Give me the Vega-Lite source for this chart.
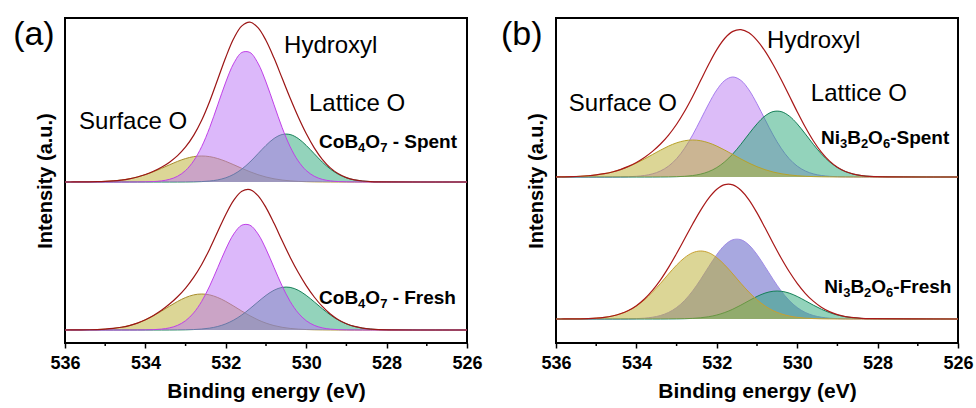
{
"$schema": "https://vega.github.io/schema/vega-lite/v6.json",
"padding": {"left": 12, "top": 16, "right": 5, "bottom": 5},
"spacing": 89,
"bounds": "flush",
"config": {
 "font": "Liberation Sans",
 "view": {"stroke": "black", "strokeWidth": 2},
 "axisX": {"labelFontSize": 18, "labelFontWeight": "bold", "labelColor": "black", "tickColor": "black", "tickWidth": 1.5, "tickSize": 5, "labelPadding": 6, "domain": false, "grid": false, "titleFontSize": 21, "titleFontWeight": "bold", "titleColor": "black", "titlePadding": 8, "labelFlush": false},
 "axisY": {"labels": false, "ticks": false, "domain": false, "grid": false, "titleFontSize": 20, "titleFontWeight": "bold", "titleColor": "black", "titlePadding": 10}
},
"datasets": {
 "minor": [{"x": 535}, {"x": 533}, {"x": 531}, {"x": 529}, {"x": 527}],
 "labels": [
  {"g": "aS", "k": "panel", "t": "(a)", "x": 537.29, "y": 137},
  {"g": "aS", "k": "ann", "t": "Surface O", "x": 535.65, "y": 53},
  {"g": "aS", "k": "ann", "t": "Hydroxyl", "x": 530.55, "y": 129},
  {"g": "aS", "k": "ann", "t": "Lattice O", "x": 529.93, "y": 71},
  {"g": "aS", "k": "spec", "t": "CoB", "x": 529.68, "y": 34},
  {"g": "aS", "k": "sub", "t": "4", "x": 528.71, "y": 34},
  {"g": "aS", "k": "spec", "t": "O", "x": 528.53, "y": 34},
  {"g": "aS", "k": "sub", "t": "7", "x": 528.16, "y": 34},
  {"g": "aS", "k": "spec", "t": "- Spent", "x": 527.85, "y": 34},
  {"g": "aF", "k": "spec", "t": "CoB", "x": 529.68, "y": 26},
  {"g": "aF", "k": "sub", "t": "4", "x": 528.71, "y": 26},
  {"g": "aF", "k": "spec", "t": "O", "x": 528.53, "y": 26},
  {"g": "aF", "k": "sub", "t": "7", "x": 528.16, "y": 26},
  {"g": "aF", "k": "spec", "t": "- Fresh", "x": 527.85, "y": 26},
  {"g": "bS", "k": "panel", "t": "(b)", "x": 537.37, "y": 132},
  {"g": "bS", "k": "ann", "t": "Surface O", "x": 535.68, "y": 66},
  {"g": "bS", "k": "ann", "t": "Hydroxyl", "x": 530.75, "y": 129},
  {"g": "bS", "k": "ann", "t": "Lattice O", "x": 529.66, "y": 76},
  {"g": "bS", "k": "spec", "t": "Ni", "x": 529.41, "y": 33},
  {"g": "bS", "k": "sub", "t": "3", "x": 528.937, "y": 33},
  {"g": "bS", "k": "spec", "t": "B", "x": 528.757, "y": 33},
  {"g": "bS", "k": "sub", "t": "2", "x": 528.416, "y": 33},
  {"g": "bS", "k": "spec", "t": "O", "x": 528.236, "y": 33},
  {"g": "bS", "k": "sub", "t": "6", "x": 527.868, "y": 33},
  {"g": "bS", "k": "spec", "t": "-Spent", "x": 527.688, "y": 33},
  {"g": "bF", "k": "spec", "t": "Ni", "x": 529.33, "y": 26},
  {"g": "bF", "k": "sub", "t": "3", "x": 528.857, "y": 26},
  {"g": "bF", "k": "spec", "t": "B", "x": 528.677, "y": 26},
  {"g": "bF", "k": "sub", "t": "2", "x": 528.336, "y": 26},
  {"g": "bF", "k": "spec", "t": "O", "x": 528.156, "y": 26},
  {"g": "bF", "k": "sub", "t": "6", "x": 527.788, "y": 26},
  {"g": "bF", "k": "spec", "t": "-Fresh", "x": 527.608, "y": 26}
 ],
 "aS": [
  {"x":536,"s":0,"h":0,"l":0,"e":0},
  {"x":535.8,"s":0.03,"h":0,"l":0,"e":0.03},
  {"x":535.6,"s":0.08,"h":0,"l":0,"e":0.08},
  {"x":535.4,"s":0.16,"h":0,"l":0,"e":0.16},
  {"x":535.2,"s":0.33,"h":0,"l":0,"e":0.33},
  {"x":535.0,"s":0.63,"h":0,"l":0,"e":0.63},
  {"x":534.8,"s":1.14,"h":0,"l":0,"e":1.14},
  {"x":534.6,"s":1.97,"h":0,"l":0,"e":1.97},
  {"x":534.4,"s":3.20,"h":0.01,"l":0,"e":3.21},
  {"x":534.2,"s":4.97,"h":0.05,"l":0,"e":5.02},
  {"x":534.0,"s":7.33,"h":0.16,"l":0,"e":7.49},
  {"x":533.8,"s":10.27,"h":0.43,"l":0,"e":10.70},
  {"x":533.6,"s":13.62,"h":1.11,"l":0,"e":14.73},
  {"x":533.4,"s":17.21,"h":2.65,"l":0,"e":19.86},
  {"x":533.2,"s":20.62,"h":5.75,"l":0.01,"e":26.38},
  {"x":533.0,"s":23.45,"h":11.50,"l":0.06,"e":35.01},
  {"x":532.8,"s":25.35,"h":21.09,"l":0.16,"e":46.60},
  {"x":532.6,"s":26,"h":35.37,"l":0.41,"e":61.78},
  {"x":532.4,"s":25.35,"h":54.50,"l":0.97,"e":80.82},
  {"x":532.2,"s":23.45,"h":77.16,"l":2.11,"e":102.72},
  {"x":532.0,"s":20.62,"h":99.95,"l":4.21,"e":124.78},
  {"x":531.8,"s":17.21,"h":118.82,"l":7.73,"e":143.76},
  {"x":531.6,"s":13.62,"h":129.56,"l":12.96,"e":156.14},
  {"x":531.4,"s":10.27,"h":129.56,"l":19.97,"e":159.80},
  {"x":531.2,"s":7.33,"h":118.82,"l":28.27,"e":154.42},
  {"x":531.0,"s":4.97,"h":99.95,"l":36.62,"e":141.54},
  {"x":530.8,"s":3.20,"h":77.16,"l":43.54,"e":123.90},
  {"x":530.6,"s":1.97,"h":54.50,"l":47.47,"e":103.94},
  {"x":530.4,"s":1.14,"h":35.37,"l":47.47,"e":83.98},
  {"x":530.2,"s":0.63,"h":21.09,"l":43.54,"e":65.26},
  {"x":530.0,"s":0.33,"h":11.50,"l":36.62,"e":48.45},
  {"x":529.8,"s":0.16,"h":5.75,"l":28.27,"e":34.18},
  {"x":529.6,"s":0.08,"h":2.65,"l":19.97,"e":22.70},
  {"x":529.4,"s":0.03,"h":1.11,"l":12.96,"e":14.10},
  {"x":529.2,"s":0,"h":0.43,"l":7.73,"e":8.16},
  {"x":529.0,"s":0,"h":0.16,"l":4.21,"e":4.37},
  {"x":528.8,"s":0,"h":0.05,"l":2.11,"e":2.16},
  {"x":528.6,"s":0,"h":0.01,"l":0.97,"e":0.98},
  {"x":528.4,"s":0,"h":0,"l":0.41,"e":0.41},
  {"x":528.2,"s":0,"h":0,"l":0.16,"e":0.16},
  {"x":526,"s":0,"h":0,"l":0,"e":0}
 ],
 "aF": [
  {"x":536,"s":0,"h":0,"l":0,"e":0},
  {"x":535.8,"s":0.05,"h":0,"l":0,"e":0.05},
  {"x":535.6,"s":0.11,"h":0,"l":0,"e":0.11},
  {"x":535.4,"s":0.23,"h":0,"l":0,"e":0.23},
  {"x":535.2,"s":0.46,"h":0,"l":0,"e":0.46},
  {"x":535.0,"s":0.87,"h":0,"l":0,"e":0.87},
  {"x":534.8,"s":1.58,"h":0,"l":0,"e":1.58},
  {"x":534.6,"s":2.72,"h":0,"l":0,"e":2.72},
  {"x":534.4,"s":4.43,"h":0.01,"l":0,"e":4.44},
  {"x":534.2,"s":6.88,"h":0.04,"l":0,"e":6.92},
  {"x":534.0,"s":10.15,"h":0.13,"l":0,"e":10.28},
  {"x":533.8,"s":14.22,"h":0.35,"l":0,"e":14.57},
  {"x":533.6,"s":18.86,"h":0.90,"l":0,"e":19.76},
  {"x":533.4,"s":23.83,"h":2.14,"l":0.03,"e":26.00},
  {"x":533.2,"s":28.55,"h":4.65,"l":0.08,"e":33.28},
  {"x":533.0,"s":32.47,"h":9.31,"l":0.19,"e":41.97},
  {"x":532.8,"s":35.10,"h":17.07,"l":0.44,"e":52.61},
  {"x":532.6,"s":36,"h":28.62,"l":0.95,"e":65.57},
  {"x":532.4,"s":35.10,"h":44.10,"l":1.89,"e":81.09},
  {"x":532.2,"s":32.47,"h":62.43,"l":3.52,"e":98.42},
  {"x":532.0,"s":28.55,"h":80.88,"l":6.15,"e":115.58},
  {"x":531.8,"s":23.83,"h":96.14,"l":9.98,"e":129.95},
  {"x":531.6,"s":18.86,"h":104.83,"l":15.09,"e":138.78},
  {"x":531.4,"s":14.22,"h":104.83,"l":21.33,"e":140.38},
  {"x":531.2,"s":10.15,"h":96.14,"l":28.12,"e":134.41},
  {"x":531.0,"s":6.88,"h":80.88,"l":34.62,"e":122.38},
  {"x":530.8,"s":4.43,"h":62.43,"l":39.78,"e":106.64},
  {"x":530.6,"s":2.72,"h":44.10,"l":42.61,"e":89.43},
  {"x":530.4,"s":1.58,"h":28.62,"l":42.61,"e":72.81},
  {"x":530.2,"s":0.87,"h":17.07,"l":39.78,"e":57.72},
  {"x":530.0,"s":0.46,"h":9.31,"l":34.62,"e":44.39},
  {"x":529.8,"s":0.23,"h":4.65,"l":28.12,"e":33.00},
  {"x":529.6,"s":0.11,"h":2.14,"l":21.33,"e":23.58},
  {"x":529.4,"s":0.05,"h":0.90,"l":15.09,"e":16.04},
  {"x":529.2,"s":0,"h":0.35,"l":9.98,"e":10.33},
  {"x":529.0,"s":0,"h":0.13,"l":6.15,"e":6.28},
  {"x":528.8,"s":0,"h":0.04,"l":3.52,"e":3.56},
  {"x":528.6,"s":0,"h":0.01,"l":1.89,"e":1.90},
  {"x":528.4,"s":0,"h":0,"l":0.95,"e":0.95},
  {"x":528.2,"s":0,"h":0,"l":0.44,"e":0.44},
  {"x":526,"s":0,"h":0,"l":0,"e":0}
 ],
 "bS": [
  {"x":536,"s":0.1,"h":0,"l":0,"e":0.1},
  {"x":535.8,"s":0.22,"h":0,"l":0,"e":0.22},
  {"x":535.6,"s":0.41,"h":0,"l":0,"e":0.41},
  {"x":535.4,"s":0.73,"h":0,"l":0,"e":0.73},
  {"x":535.2,"s":1.26,"h":0,"l":0,"e":1.26},
  {"x":535.0,"s":2.08,"h":0,"l":0,"e":2.08},
  {"x":534.8,"s":3.29,"h":0,"l":0,"e":3.29},
  {"x":534.6,"s":5.00,"h":0.04,"l":0,"e":5.04},
  {"x":534.4,"s":7.33,"h":0.11,"l":0,"e":7.44},
  {"x":534.2,"s":10.29,"h":0.29,"l":0,"e":10.58},
  {"x":534.0,"s":13.88,"h":0.68,"l":0,"e":14.56},
  {"x":533.8,"s":18.02,"h":1.51,"l":0,"e":19.53},
  {"x":533.6,"s":22.46,"h":3.13,"l":0,"e":25.59},
  {"x":533.4,"s":26.86,"h":6.05,"l":0.05,"e":32.96},
  {"x":533.2,"s":30.90,"h":10.9,"l":0.12,"e":41.92},
  {"x":533.0,"s":34.15,"h":18.3,"l":0.30,"e":52.75},
  {"x":532.8,"s":36.26,"h":28.8,"l":0.68,"e":65.74},
  {"x":532.6,"s":37,"h":42.1,"l":1.45,"e":80.55},
  {"x":532.4,"s":36.26,"h":57.5,"l":2.90,"e":96.66},
  {"x":532.2,"s":34.15,"h":73.2,"l":5.41,"e":112.76},
  {"x":532.0,"s":30.90,"h":87.1,"l":9.44,"e":127.44},
  {"x":531.8,"s":26.86,"h":96.6,"l":15.31,"e":138.77},
  {"x":531.6,"s":22.46,"h":100,"l":23.17,"e":145.63},
  {"x":531.4,"s":18.02,"h":96.6,"l":32.74,"e":147.36},
  {"x":531.2,"s":13.88,"h":87.1,"l":43.16,"e":144.14},
  {"x":531.0,"s":10.29,"h":73.2,"l":53.13,"e":136.62},
  {"x":530.8,"s":7.33,"h":57.5,"l":61.05,"e":125.88},
  {"x":530.6,"s":5.00,"h":42.1,"l":65.41,"e":112.51},
  {"x":530.4,"s":3.29,"h":28.8,"l":65.41,"e":97.50},
  {"x":530.2,"s":2.08,"h":18.3,"l":61.05,"e":81.43},
  {"x":530.0,"s":1.26,"h":10.9,"l":53.13,"e":65.29},
  {"x":529.8,"s":0.73,"h":6.05,"l":43.16,"e":49.94},
  {"x":529.6,"s":0.41,"h":3.13,"l":32.74,"e":36.28},
  {"x":529.4,"s":0.22,"h":1.51,"l":23.17,"e":24.90},
  {"x":529.2,"s":0.11,"h":0.68,"l":15.31,"e":16.10},
  {"x":529.0,"s":0.06,"h":0.29,"l":9.44,"e":9.79},
  {"x":528.8,"s":0.03,"h":0.11,"l":5.41,"e":5.55},
  {"x":528.6,"s":0.01,"h":0.04,"l":2.90,"e":2.95},
  {"x":528.4,"s":0,"h":0,"l":1.45,"e":1.45},
  {"x":528.2,"s":0,"h":0,"l":0.68,"e":0.68},
  {"x":526,"s":0,"h":0,"l":0,"e":0}
 ],
 "bF": [
  {"x":536,"s":0,"h":0,"l":0,"e":0},
  {"x":535.8,"s":0.04,"h":0,"l":0,"e":0.04},
  {"x":535.6,"s":0.09,"h":0,"l":0,"e":0.09},
  {"x":535.4,"s":0.20,"h":0,"l":0,"e":0.20},
  {"x":535.2,"s":0.43,"h":0,"l":0,"e":0.43},
  {"x":535.0,"s":0.86,"h":0,"l":0,"e":0.86},
  {"x":534.8,"s":1.65,"h":0,"l":0,"e":1.65},
  {"x":534.6,"s":2.99,"h":0,"l":0,"e":2.99},
  {"x":534.4,"s":5.14,"h":0.06,"l":0,"e":5.20},
  {"x":534.2,"s":8.36,"h":0.14,"l":0,"e":8.50},
  {"x":534.0,"s":12.99,"h":0.36,"l":0,"e":13.35},
  {"x":533.8,"s":19.18,"h":0.82,"l":0,"e":20.00},
  {"x":533.6,"s":26.86,"h":1.76,"l":0,"e":28.62},
  {"x":533.4,"s":35.63,"h":3.51,"l":0,"e":39.14},
  {"x":533.2,"s":45.02,"h":6.55,"l":0.05,"e":51.62},
  {"x":533.0,"s":53.92,"h":11.44,"l":0.13,"e":65.49},
  {"x":532.8,"s":61.34,"h":18.56,"l":0.29,"e":80.19},
  {"x":532.6,"s":66.30,"h":28.08,"l":0.62,"e":95.00},
  {"x":532.4,"s":68,"h":39.68,"l":1.23,"e":108.91},
  {"x":532.2,"s":66.30,"h":52.32,"l":2.29,"e":120.91},
  {"x":532.0,"s":61.34,"h":64.40,"l":4.00,"e":129.74},
  {"x":531.8,"s":53.92,"h":74.00,"l":6.50,"e":134.42},
  {"x":531.6,"s":45.02,"h":79.28,"l":9.83,"e":134.13},
  {"x":531.4,"s":35.63,"h":79.28,"l":13.89,"e":128.80},
  {"x":531.2,"s":26.86,"h":74.00,"l":18.31,"e":119.17},
  {"x":531.0,"s":19.18,"h":64.40,"l":22.54,"e":106.12},
  {"x":530.8,"s":12.99,"h":52.32,"l":25.90,"e":91.21},
  {"x":530.6,"s":8.36,"h":39.68,"l":27.75,"e":75.79},
  {"x":530.4,"s":5.14,"h":28.08,"l":27.75,"e":60.97},
  {"x":530.2,"s":2.99,"h":18.56,"l":25.90,"e":47.45},
  {"x":530.0,"s":1.65,"h":11.44,"l":22.54,"e":35.63},
  {"x":529.8,"s":0.86,"h":6.55,"l":18.31,"e":25.72},
  {"x":529.6,"s":0.43,"h":3.51,"l":13.89,"e":17.83},
  {"x":529.4,"s":0.20,"h":1.76,"l":9.83,"e":11.79},
  {"x":529.2,"s":0.09,"h":0.82,"l":6.50,"e":7.41},
  {"x":529.0,"s":0.04,"h":0.36,"l":4.00,"e":4.40},
  {"x":528.8,"s":0,"h":0.14,"l":2.29,"e":2.43},
  {"x":528.6,"s":0,"h":0.06,"l":1.23,"e":1.29},
  {"x":528.4,"s":0,"h":0,"l":0.62,"e":0.62},
  {"x":528.2,"s":0,"h":0,"l":0.29,"e":0.29},
  {"x":526,"s":0,"h":0,"l":0,"e":0}
 ]
},
"hconcat": [
 {
  "width": 402, "height": 325,
  "encoding": {"x": {"field": "x", "type": "quantitative", "scale": {"domain": [536, 526], "nice": false, "zero": false}, "title": "Binding energy (eV)", "axis": {"values": [536, 534, 532, 530, 528, 526], "format": "d"}}},
  "resolve": {"scale": {"y": "independent"}, "axis": {"y": "independent"}},
  "layer": [
   {
    "data": {"name": "aS"},
    "layer": [
     {"data": {"values": [{"b": 0}]}, "mark": {"type": "rule", "color": "#7fa6c8", "strokeWidth": 1.2}, "encoding": {"x": {"datum": 536}, "x2": {"datum": 526}, "y": {"field": "b", "type": "quantitative", "scale": {"domain": [-161, 164]}, "title": "Intensity (a.u.)"}}},
     {"data": {"name": "minor"}, "mark": {"type": "rule", "color": "black", "strokeWidth": 1.5}, "encoding": {"y": {"datum": -161, "type": "quantitative", "scale": {"domain": [-161, 164]}, "title": "Intensity (a.u.)"}, "y2": {"datum": -164}}},
     {"mark": {"type": "area", "color": "#b9ad2d", "fillOpacity": 0.5, "interpolate": "catmull-rom", "line": {"color": "#a88c2c", "strokeWidth": 1}}, "encoding": {"y": {"field": "s", "type": "quantitative", "scale": {"domain": [-161, 164]}, "title": "Intensity (a.u.)"}, "y2": {"datum": 0}}},
     {"mark": {"type": "area", "color": "#27a777", "fillOpacity": 0.5, "interpolate": "catmull-rom", "line": {"color": "#168058", "strokeWidth": 1}}, "encoding": {"y": {"field": "l", "type": "quantitative", "scale": {"domain": [-161, 164]}, "title": "Intensity (a.u.)"}, "y2": {"datum": 0}}},
     {"mark": {"type": "area", "color": "#b971f5", "fillOpacity": 0.5, "interpolate": "catmull-rom", "line": {"color": "#c040e8", "strokeWidth": 1}}, "encoding": {"y": {"field": "h", "type": "quantitative", "scale": {"domain": [-161, 164]}, "title": "Intensity (a.u.)"}, "y2": {"datum": 0}}},
     {"mark": {"type": "line", "color": "#9b1515", "strokeWidth": 1.2, "interpolate": "catmull-rom"}, "encoding": {"y": {"field": "e", "type": "quantitative", "scale": {"domain": [-161, 164]}, "title": "Intensity (a.u.)"}}},
     {"data": {"name": "labels"}, "transform": [{"filter": "datum.g === 'aS' && datum.k === 'panel'"}], "mark": {"type": "text", "align": "left", "baseline": "alphabetic", "fontSize": 34, "color": "black"}, "encoding": {"text": {"field": "t"}, "y": {"field": "y", "type": "quantitative", "scale": {"domain": [-161, 164]}, "title": "Intensity (a.u.)"}}},
     {"data": {"name": "labels"}, "transform": [{"filter": "datum.g === 'aS' && datum.k === 'ann'"}], "mark": {"type": "text", "align": "left", "baseline": "alphabetic", "fontSize": 24, "color": "black"}, "encoding": {"text": {"field": "t"}, "y": {"field": "y", "type": "quantitative", "scale": {"domain": [-161, 164]}, "title": "Intensity (a.u.)"}}},
     {"data": {"name": "labels"}, "transform": [{"filter": "datum.g === 'aS' && datum.k === 'spec'"}], "mark": {"type": "text", "align": "left", "baseline": "alphabetic", "fontSize": 19, "fontWeight": "bold", "color": "black"}, "encoding": {"text": {"field": "t"}, "y": {"field": "y", "type": "quantitative", "scale": {"domain": [-161, 164]}, "title": "Intensity (a.u.)"}}},
     {"data": {"name": "labels"}, "transform": [{"filter": "datum.g === 'aS' && datum.k === 'sub'"}], "mark": {"type": "text", "align": "left", "baseline": "alphabetic", "fontSize": 13, "fontWeight": "bold", "dy": 4, "color": "black"}, "encoding": {"text": {"field": "t"}, "y": {"field": "y", "type": "quantitative", "scale": {"domain": [-161, 164]}, "title": "Intensity (a.u.)"}}}
    ]
   },
   {
    "data": {"name": "aF"},
    "layer": [
     {"data": {"values": [{"b": 0}]}, "mark": {"type": "rule", "color": "#7fa6c8", "strokeWidth": 1.2}, "encoding": {"x": {"datum": 536}, "x2": {"datum": 526}, "y": {"field": "b", "type": "quantitative", "scale": {"domain": [-13, 312]}, "axis": null}}},
     {"mark": {"type": "area", "color": "#b9ad2d", "fillOpacity": 0.5, "interpolate": "catmull-rom", "line": {"color": "#a88c2c", "strokeWidth": 1}}, "encoding": {"y": {"field": "s", "type": "quantitative", "scale": {"domain": [-13, 312]}, "axis": null}, "y2": {"datum": 0}}},
     {"mark": {"type": "area", "color": "#27a777", "fillOpacity": 0.5, "interpolate": "catmull-rom", "line": {"color": "#168058", "strokeWidth": 1}}, "encoding": {"y": {"field": "l", "type": "quantitative", "scale": {"domain": [-13, 312]}, "axis": null}, "y2": {"datum": 0}}},
     {"mark": {"type": "area", "color": "#b971f5", "fillOpacity": 0.5, "interpolate": "catmull-rom", "line": {"color": "#c040e8", "strokeWidth": 1}}, "encoding": {"y": {"field": "h", "type": "quantitative", "scale": {"domain": [-13, 312]}, "axis": null}, "y2": {"datum": 0}}},
     {"mark": {"type": "line", "color": "#9b1515", "strokeWidth": 1.2, "interpolate": "catmull-rom"}, "encoding": {"y": {"field": "e", "type": "quantitative", "scale": {"domain": [-13, 312]}, "axis": null}}},
     {"data": {"name": "labels"}, "transform": [{"filter": "datum.g === 'aF' && datum.k === 'spec'"}], "mark": {"type": "text", "align": "left", "baseline": "alphabetic", "fontSize": 19, "fontWeight": "bold", "color": "black"}, "encoding": {"text": {"field": "t"}, "y": {"field": "y", "type": "quantitative", "scale": {"domain": [-13, 312]}, "axis": null}}},
     {"data": {"name": "labels"}, "transform": [{"filter": "datum.g === 'aF' && datum.k === 'sub'"}], "mark": {"type": "text", "align": "left", "baseline": "alphabetic", "fontSize": 13, "fontWeight": "bold", "dy": 4, "color": "black"}, "encoding": {"text": {"field": "t"}, "y": {"field": "y", "type": "quantitative", "scale": {"domain": [-13, 312]}, "axis": null}}}
    ]
   }
  ]
 },
 {
  "width": 402, "height": 325,
  "encoding": {"x": {"field": "x", "type": "quantitative", "scale": {"domain": [536, 526], "nice": false, "zero": false}, "title": "Binding energy (eV)", "axis": {"values": [536, 534, 532, 530, 528, 526], "format": "d"}}},
  "resolve": {"scale": {"y": "independent"}, "axis": {"y": "independent"}},
  "layer": [
   {
    "data": {"name": "bS"},
    "layer": [
     {"data": {"values": [{"b": 0}]}, "mark": {"type": "rule", "color": "#5fb0e8", "strokeWidth": 1.2}, "encoding": {"x": {"datum": 536}, "x2": {"datum": 526}, "y": {"field": "b", "type": "quantitative", "scale": {"domain": [-166, 159]}, "title": "Intensity (a.u.)"}}},
     {"data": {"name": "minor"}, "mark": {"type": "rule", "color": "black", "strokeWidth": 1.5}, "encoding": {"y": {"datum": -166, "type": "quantitative", "scale": {"domain": [-166, 159]}, "title": "Intensity (a.u.)"}, "y2": {"datum": -169}}},
     {"mark": {"type": "area", "color": "#b979f1", "fillOpacity": 0.5, "interpolate": "catmull-rom", "line": {"color": "#a67cee", "strokeWidth": 1}}, "encoding": {"y": {"field": "h", "type": "quantitative", "scale": {"domain": [-166, 159]}, "title": "Intensity (a.u.)"}, "y2": {"datum": 0}}},
     {"mark": {"type": "area", "color": "#27a777", "fillOpacity": 0.5, "interpolate": "catmull-rom", "line": {"color": "#168058", "strokeWidth": 1}}, "encoding": {"y": {"field": "l", "type": "quantitative", "scale": {"domain": [-166, 159]}, "title": "Intensity (a.u.)"}, "y2": {"datum": 0}}},
     {"mark": {"type": "area", "color": "#b9ad2d", "fillOpacity": 0.5, "interpolate": "catmull-rom", "line": {"color": "#b8a22a", "strokeWidth": 1}}, "encoding": {"y": {"field": "s", "type": "quantitative", "scale": {"domain": [-166, 159]}, "title": "Intensity (a.u.)"}, "y2": {"datum": 0}}},
     {"mark": {"type": "line", "color": "#a81818", "strokeWidth": 1.2, "interpolate": "catmull-rom"}, "encoding": {"y": {"field": "e", "type": "quantitative", "scale": {"domain": [-166, 159]}, "title": "Intensity (a.u.)"}}},
     {"data": {"name": "labels"}, "transform": [{"filter": "datum.g === 'bS' && datum.k === 'panel'"}], "mark": {"type": "text", "align": "left", "baseline": "alphabetic", "fontSize": 34, "color": "black"}, "encoding": {"text": {"field": "t"}, "y": {"field": "y", "type": "quantitative", "scale": {"domain": [-166, 159]}, "title": "Intensity (a.u.)"}}},
     {"data": {"name": "labels"}, "transform": [{"filter": "datum.g === 'bS' && datum.k === 'ann'"}], "mark": {"type": "text", "align": "left", "baseline": "alphabetic", "fontSize": 24, "color": "black"}, "encoding": {"text": {"field": "t"}, "y": {"field": "y", "type": "quantitative", "scale": {"domain": [-166, 159]}, "title": "Intensity (a.u.)"}}},
     {"data": {"name": "labels"}, "transform": [{"filter": "datum.g === 'bS' && datum.k === 'spec'"}], "mark": {"type": "text", "align": "left", "baseline": "alphabetic", "fontSize": 19, "fontWeight": "bold", "color": "black"}, "encoding": {"text": {"field": "t"}, "y": {"field": "y", "type": "quantitative", "scale": {"domain": [-166, 159]}, "title": "Intensity (a.u.)"}}},
     {"data": {"name": "labels"}, "transform": [{"filter": "datum.g === 'bS' && datum.k === 'sub'"}], "mark": {"type": "text", "align": "left", "baseline": "alphabetic", "fontSize": 13, "fontWeight": "bold", "dy": 4, "color": "black"}, "encoding": {"text": {"field": "t"}, "y": {"field": "y", "type": "quantitative", "scale": {"domain": [-166, 159]}, "title": "Intensity (a.u.)"}}}
    ]
   },
   {
    "data": {"name": "bF"},
    "layer": [
     {"data": {"values": [{"b": 0}]}, "mark": {"type": "rule", "color": "#5fb0e8", "strokeWidth": 1.2}, "encoding": {"x": {"datum": 536}, "x2": {"datum": 526}, "y": {"field": "b", "type": "quantitative", "scale": {"domain": [-24, 301]}, "axis": null}}},
     {"mark": {"type": "area", "color": "#5151c1", "fillOpacity": 0.5, "interpolate": "catmull-rom", "line": {"color": "#a08ce6", "strokeWidth": 1}}, "encoding": {"y": {"field": "h", "type": "quantitative", "scale": {"domain": [-24, 301]}, "axis": null}, "y2": {"datum": 0}}},
     {"mark": {"type": "area", "color": "#27a777", "fillOpacity": 0.5, "interpolate": "catmull-rom", "line": {"color": "#168058", "strokeWidth": 1}}, "encoding": {"y": {"field": "l", "type": "quantitative", "scale": {"domain": [-24, 301]}, "axis": null}, "y2": {"datum": 0}}},
     {"mark": {"type": "area", "color": "#b9ad2d", "fillOpacity": 0.5, "interpolate": "catmull-rom", "line": {"color": "#c8a030", "strokeWidth": 1}}, "encoding": {"y": {"field": "s", "type": "quantitative", "scale": {"domain": [-24, 301]}, "axis": null}, "y2": {"datum": 0}}},
     {"mark": {"type": "line", "color": "#a81818", "strokeWidth": 1.2, "interpolate": "catmull-rom"}, "encoding": {"y": {"field": "e", "type": "quantitative", "scale": {"domain": [-24, 301]}, "axis": null}}},
     {"data": {"name": "labels"}, "transform": [{"filter": "datum.g === 'bF' && datum.k === 'spec'"}], "mark": {"type": "text", "align": "left", "baseline": "alphabetic", "fontSize": 19, "fontWeight": "bold", "color": "black"}, "encoding": {"text": {"field": "t"}, "y": {"field": "y", "type": "quantitative", "scale": {"domain": [-24, 301]}, "axis": null}}},
     {"data": {"name": "labels"}, "transform": [{"filter": "datum.g === 'bF' && datum.k === 'sub'"}], "mark": {"type": "text", "align": "left", "baseline": "alphabetic", "fontSize": 13, "fontWeight": "bold", "dy": 4, "color": "black"}, "encoding": {"text": {"field": "t"}, "y": {"field": "y", "type": "quantitative", "scale": {"domain": [-24, 301]}, "axis": null}}}
    ]
   }
  ]
 }
]
}
